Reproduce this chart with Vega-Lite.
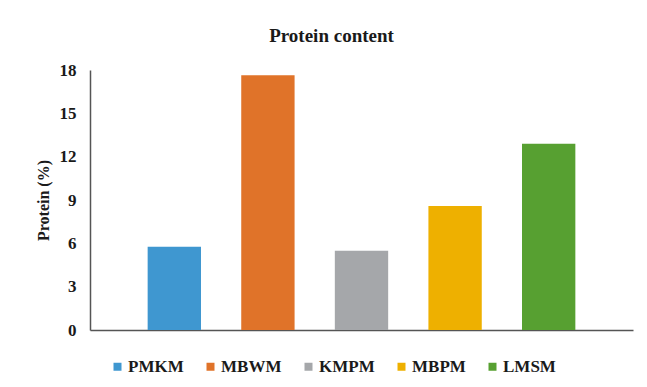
{
  "$schema": "https://vega.github.io/schema/vega-lite/v6.json",
  "width": 543,
  "height": 260,
  "autosize": "none",
  "padding": {"left": 90, "top": 70, "right": 14, "bottom": 57},
  "background": "white",
  "title": {
    "text": "Protein content",
    "font": "'Liberation Serif', 'Times New Roman', serif",
    "fontSize": 19,
    "fontWeight": "bold",
    "color": "#1a1a1a",
    "anchor": "middle",
    "dx": -30,
    "offset": 15
  },
  "data": {
    "values": [
      {"sample": "PMKM", "protein": 5.77},
      {"sample": "MBWM", "protein": 17.63},
      {"sample": "KMPM", "protein": 5.49},
      {"sample": "MBPM", "protein": 8.59},
      {"sample": "LMSM", "protein": 12.9}
    ]
  },
  "mark": {"type": "bar"},
  "encoding": {
    "x": {
      "field": "sample",
      "type": "nominal",
      "sort": null,
      "scale": {"paddingInner": 0.43, "paddingOuter": 0.616},
      "axis": {
        "title": null,
        "labels": false,
        "ticks": false,
        "domainColor": "#555555",
        "domainWidth": 1.5
      }
    },
    "y": {
      "field": "protein",
      "type": "quantitative",
      "scale": {"domain": [0, 18], "nice": false},
      "axis": {
        "title": "Protein (%)",
        "titleFont": "'Liberation Serif', 'Times New Roman', serif",
        "titleFontSize": 16,
        "titleFontWeight": "bold",
        "titleColor": "#1a1a1a",
        "titleX": -39,
        "values": [0, 3, 6, 9, 12, 15, 18],
        "labelFont": "'Liberation Serif', 'Times New Roman', serif",
        "labelFontSize": 17,
        "labelFontWeight": "bold",
        "labelColor": "#1a1a1a",
        "labelPadding": 14,
        "ticks": false,
        "grid": false,
        "domainColor": "#555555",
        "domainWidth": 1.5
      }
    },
    "color": {
      "field": "sample",
      "type": "nominal",
      "sort": null,
      "scale": {
        "domain": ["PMKM", "MBWM", "KMPM", "MBPM", "LMSM"],
        "range": ["#3F97D0", "#E07329", "#A5A7AA", "#EEB000", "#57A031"]
      },
      "legend": {
        "title": null,
        "orient": "none",
        "legendX": 19,
        "legendY": 288,
        "direction": "horizontal",
        "columns": 5,
        "symbolType": "square",
        "symbolSize": 64,
        "symbolStrokeWidth": 0,
        "labelFont": "'Liberation Serif', 'Times New Roman', serif",
        "labelFontSize": 17,
        "labelFontWeight": "bold",
        "labelColor": "#1a1a1a",
        "labelOffset": 2,
        "columnPadding": 18
      }
    }
  },
  "config": {
    "view": {"stroke": null}
  }
}
